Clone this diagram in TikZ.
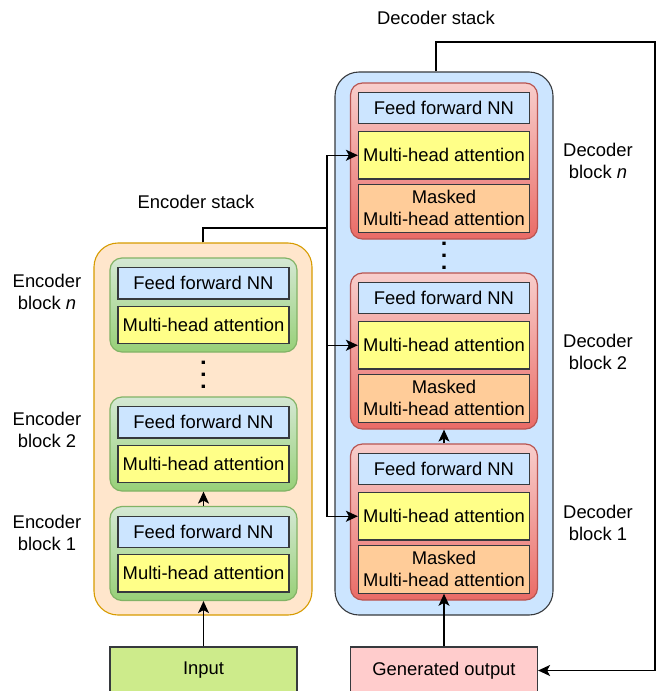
\documentclass[tikz,border=0pt]{standalone}
\usepackage{fontspec}
\setmainfont{Liberation Sans}
\usepackage{tikz}
\usetikzlibrary{positioning,arrows.meta}
\usepackage{xcolor}
\definecolor{encfill}{HTML}{FFE6CC}
\definecolor{encdraw}{HTML}{D79B00}
\definecolor{decfill}{HTML}{CCE5FF}
\definecolor{boxdraw}{HTML}{36393D}
\definecolor{ffblue}{HTML}{CCE5FF}
\definecolor{mhayellow}{HTML}{FFFF88}
\definecolor{maskorange}{HTML}{FFCC99}
\definecolor{inputgreen}{HTML}{CDEB8B}
\definecolor{genpink}{HTML}{FFCCCC}
\definecolor{greentop}{HTML}{D5E8D4}
\definecolor{greenbot}{HTML}{97D077}
\definecolor{greendraw}{HTML}{82B366}
\definecolor{redtop}{HTML}{F8CECC}
\definecolor{redbot}{HTML}{EA6B66}
\definecolor{reddraw}{HTML}{B85450}

\begin{document}
\begin{tikzpicture}[
  x=1pt, y=-1pt,
  >={Stealth[length=12pt,width=11pt,inset=3pt]},
  every node/.style={font=\fontsize{18.4}{21.7}\selectfont, inner sep=0pt, align=center},
  stack/.style={rounded corners=24pt, line width=1.1pt, minimum width=218pt},
  encblock/.style={draw=greendraw, top color=greentop, bottom color=greenbot, rounded corners=12pt, line width=1.2pt, minimum width=187pt, minimum height=94pt},
  decblock/.style={draw=reddraw, top color=redtop, bottom color=redbot, rounded corners=12pt, line width=1.2pt, minimum width=187pt, minimum height=156pt},
  ffbox/.style={draw=boxdraw, fill=ffblue, line width=1.2pt, minimum width=171pt, minimum height=31.3pt},
  mhabox/.style={draw=boxdraw, fill=mhayellow, line width=1.2pt, minimum width=171pt, minimum height=37.3pt},
  maskbox/.style={draw=boxdraw, fill=maskorange, line width=1.2pt, minimum width=171pt, minimum height=48pt},
  iobox/.style={draw=boxdraw, line width=1.2pt, minimum width=187pt, minimum height=47pt},
  arr/.style={->, line width=1.3pt}
]
  \useasboundingbox (0,0) rectangle (656,691);
  % stacks
  \node[stack, draw=encdraw, fill=encfill, minimum height=372pt] (encstack) at (203,429) {};
  \node[stack, draw=boxdraw, fill=decfill, minimum height=543pt] (decstack) at (444,343.5) {};
  \node (enctitle) at (196,202) {Encoder stack};
  \node (dectitle) at (436,18) {Decoder stack};

  % encoder blocks
  \node[encblock] (encn) at (203.5,305) {};
  \node[ffbox, below=9.7pt of encn.north] (encnff) {Feed forward NN};
  \node[mhabox, below=6pt of encnff] (encnmha) {Multi-head attention};
  \node[encblock] (enc2) at (203.5,444) {};
  \node[ffbox, below=9.7pt of enc2.north] (enc2ff) {Feed forward NN};
  \node[mhabox, below=6pt of enc2ff] (enc2mha) {Multi-head attention};
  \node[encblock] (enc1) at (203.5,553.5) {};
  \node[ffbox, below=9.7pt of enc1.north] (enc1ff) {Feed forward NN};
  \node[mhabox, below=6pt of enc1ff] (enc1mha) {Multi-head attention};
  \fill (201.5,360.5) rectangle +(3.4,3.4) (201.5,372.5) rectangle +(3.4,3.4) (201.5,384.5) rectangle +(3.4,3.4);

  % decoder blocks
  \node[decblock] (decn) at (444,161) {};
  \node[ffbox, below=9.5pt of decn.north] (decnff) {Feed forward NN};
  \node[mhabox, minimum height=47.5pt, below=6.5pt of decnff] (decnmha) {Multi-head attention};
  \node[maskbox, below=4pt of decnmha] (decnmask) {Masked\\Multi-head attention};
  \node[decblock] (dec2) at (444,351) {};
  \node[ffbox, below=9.5pt of dec2.north] (dec2ff) {Feed forward NN};
  \node[mhabox, minimum height=47.5pt, below=6.5pt of dec2ff] (dec2mha) {Multi-head attention};
  \node[maskbox, below=4pt of dec2mha] (dec2mask) {Masked\\Multi-head attention};
  \node[decblock] (dec1) at (444,522) {};
  \node[ffbox, below=9.5pt of dec1.north] (dec1ff) {Feed forward NN};
  \node[mhabox, minimum height=47.5pt, below=6.5pt of dec1ff] (dec1mha) {Multi-head attention};
  \node[maskbox, below=4pt of dec1mha] (dec1mask) {Masked\\Multi-head attention};
  \fill (442.3,241.5) rectangle +(3.4,3.4) (442.3,253.5) rectangle +(3.4,3.4) (442.3,265.5) rectangle +(3.4,3.4);

  % block labels
  \node (encnlbl) at (47,292) {Encoder\\block \textit{n}};
  \node (enc2lbl) at (47,430) {Encoder\\block 2};
  \node (enc1lbl) at (47,533) {Encoder\\block 1};
  \node (decnlbl) at (598,161) {Decoder\\block \textit{n}};
  \node (dec2lbl) at (598,352) {Decoder\\block 2};
  \node (dec1lbl) at (598,523) {Decoder\\block 1};

  % inputs
  \node[iobox, fill=inputgreen] (input) at (203.5,670.5) {Input};
  \node[iobox, fill=genpink] (genout) at (444,670.5) {Generated output};

  % connections
  \coordinate (split) at (327,228);
  \coordinate (turn) at (655,42);
  \draw[arr] (input) -- (enc1);
  \draw[arr] (enc1) -- (enc2);
  \draw[arr] (genout) -- (dec1mask);
  \draw[arr] (dec1) -- (dec2);
  \draw[arr] (encstack.north) |- (split) |- (decnmha.west);
  \draw[arr] (encstack.north) |- (split) |- (dec2mha.west);
  \draw[arr] (encstack.north) |- (split) |- (dec1mha.west);
  \draw[arr] (dectitle |- decstack.north) |- (turn) |- (genout.east);
\end{tikzpicture}
\end{document}
